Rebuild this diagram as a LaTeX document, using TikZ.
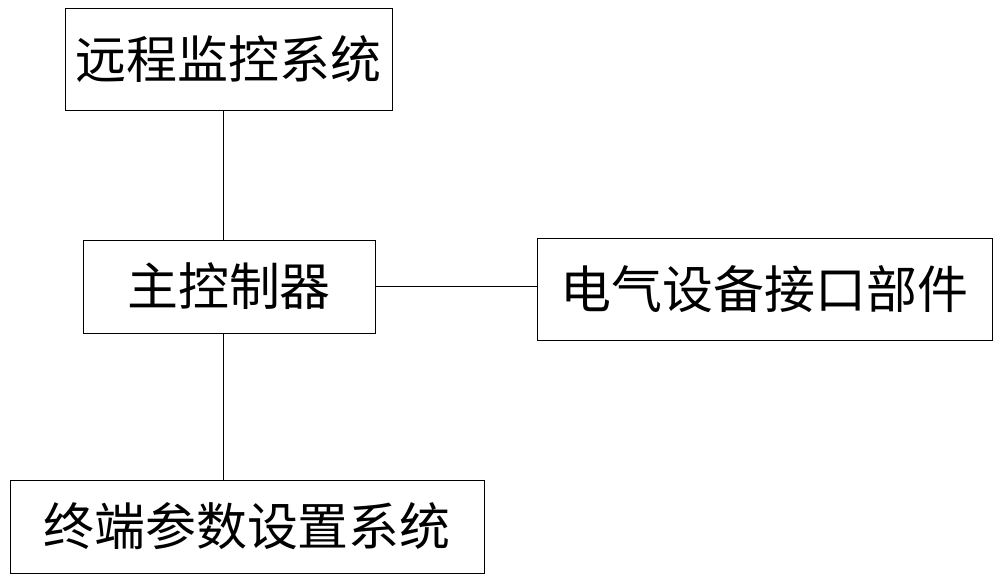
\documentclass[tikz,border=0pt]{standalone}
\usepackage{fontspec}
\newfontfamily\cjk{Noto Sans CJK SC}
\begin{document}
\begin{tikzpicture}[x=0.02cm,y=-0.02cm,
  box/.style={draw,inner sep=0pt,font=\cjk\fontsize{29}{32}\selectfont}]
\useasboundingbox (0,0) rectangle (1000,581);
\node[box,minimum width=327*0.02cm,minimum height=102*0.02cm] (R) at (228.5,59) {远程监控系统};
\node[box,minimum width=292*0.02cm,minimum height=93*0.02cm] (M) at (229,286.5) {主控制器};
\node[box,minimum width=455*0.02cm,minimum height=102*0.02cm] (E) at (764.5,289) {电气设备接口部件};
\node[box,minimum width=474*0.02cm,minimum height=93*0.02cm] (T) at (247,526.5) {终端参数设置系统};
\draw ([xshift=-0.12cm]M.north) -- ([xshift=-0.12cm]M.north |- R.south);
\draw (M.east) -- (M.east -| E.west);
\draw ([xshift=-0.12cm]M.south) -- ([xshift=-0.12cm]M.south |- T.north);
\end{tikzpicture}
\end{document}
